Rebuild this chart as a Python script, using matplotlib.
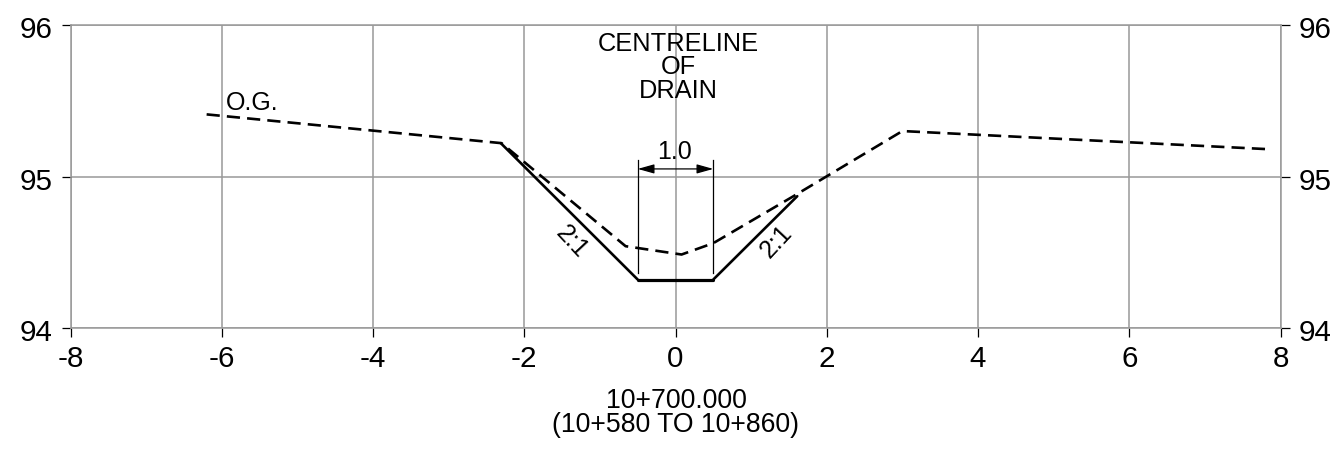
import numpy as np
import matplotlib
matplotlib.use("Agg")
import matplotlib.pyplot as plt
from matplotlib.transforms import ScaledTranslation

plt.rcParams['font.family'] = ['Liberation Sans', 'DejaVu Sans']
plt.rcParams['axes.unicode_minus'] = False

#axis ticks
x_ticks = [-8, -6, -4, -2, 0, 2, 4, 6, 8]
y_ticks = [94, 95, 96]

#original ground (dashed)
og_x = [-6.2, -2.3, -0.66, 0.08, 0.5, 1.56, 3.0, 7.85]
og_y = [95.41, 95.22, 94.54, 94.485, 94.56, 94.87, 95.30, 95.18]

#drain design (solid)
drain_x = [-2.31, -0.5, 0.5, 1.61]
drain_y = [95.22, 94.32, 94.32, 94.87]

#dimension between the toes of the drain
dim_x = [-0.5, 0.5]
dim_bottom, dim_top, dim_arrow = 94.36, 95.11, 95.05

gray = '#999999'
black = '#000000'

fig = plt.figure(figsize=(13.4, 4.5), dpi=100)
ax = fig.add_axes([70.5 / 1340, 1 - 328 / 450, 1210 / 1340, 303 / 450])
ax.set_xlim(-8, 8)
ax.set_ylim(94, 96)

ax.set_xticks(x_ticks)
ax.set_yticks(y_ticks)
ax.grid(True, color=gray, linewidth=1.1)
ax.set_axisbelow(True)
for side in ax.spines.values():
    side.set_color(gray)
    side.set_linewidth(1.1)
ax.tick_params(axis='x', length=6.5, width=0.9, color=black, labelsize=21.3, labelcolor=black, pad=6)
ax.tick_params(axis='y', length=6.5, width=0.9, color=black, labelsize=21.3, labelcolor=black, pad=6.5,
               right=True, labelright=True)

#y labels sit a little lower than the tick in the drawing
nudge = ScaledTranslation(0, -2 / 100, fig.dpi_scale_trans)
for tick in ax.yaxis.get_major_ticks():
    tick.label1.set_transform(tick.label1.get_transform() + nudge)
    tick.label2.set_transform(tick.label2.get_transform() + nudge)

ax.plot(og_x, og_y, color=black, linewidth=1.9, linestyle=(0, (5.0, 2.7)), zorder=3)
ax.plot(drain_x[:2], drain_y[:2], color=black, linewidth=1.9, zorder=3, solid_capstyle='round')
ax.plot(drain_x[1:3], drain_y[1:3], color=black, linewidth=2.3, zorder=3, solid_capstyle='round')
ax.plot(drain_x[2:], drain_y[2:], color=black, linewidth=1.9, zorder=3, solid_capstyle='round')

#dimension
for dx in dim_x:
    ax.plot([dx, dx], [dim_bottom, dim_top], color=black, linewidth=0.9, zorder=3)
ax.annotate('', xy=(dim_x[0], dim_arrow), xytext=(dim_x[1], dim_arrow),
            arrowprops=dict(arrowstyle='<|-|>,head_length=1.0,head_width=0.28', color=black,
                            linewidth=0.9, shrinkA=0, shrinkB=0), zorder=4)
ax.text(-0.01, 95.085, '1.0', fontsize=18, color=black, ha='center', va='bottom')

#labels
ax.text(0.04, 95.72, 'CENTRELINE\nOF\nDRAIN', fontsize=18.3, color=black, ha='center', va='center',
        linespacing=0.98)
ax.text(-5.95, 95.405, 'O.G.', fontsize=18, color=black, ha='left', va='bottom')
ax.text(-1.37, 94.57, '2:1', fontsize=18, color=black, ha='center', va='center',
        rotation=-47, rotation_mode='anchor')
ax.text(1.33, 94.57, '2:1', fontsize=18, color=black, ha='center', va='center',
        rotation=47, rotation_mode='anchor')

fig.text(676 / 1340, 1 - 413 / 450, '10+700.000\n(10+580 TO 10+860)', fontsize=19.2, color=black,
         ha='center', va='center', linespacing=0.92)

fig.savefig('out.png', dpi=100, facecolor='white')
